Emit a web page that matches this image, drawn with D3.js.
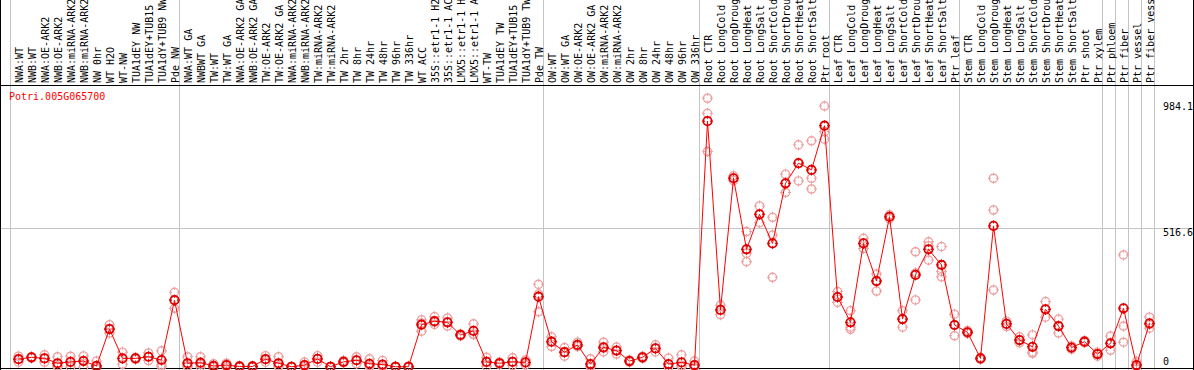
<!DOCTYPE html>
<html lang="en">
<head>
    <meta charset="UTF-8">
    <title>Potri.005G065700</title>
    <style type="text/css">
        * {
            margin: 0;
            padding: 0;
        }
        body { background: white; }
        svg text { font-family: "DejaVu Sans Mono", monospace; font-size: 10px; }
    </style>
</head>
<body>
<div id="chart-area"></div>
<script src="https://cdn.jsdelivr.net/npm/d3@7"></script>
<script type="text/javascript">
    const width = 1194
    const height = 370

    const samples = [
      'NWA:WT', 'NWB:WT', 'NWA:OE-ARK2', 'NWB:OE-ARK2', 'NWA:miRNA-ARK2', 'NWB:miRNA-ARK2', 'NW 0hr', 'WT H2O',
      'WT-NW', 'TUA1dEY NW', 'TUA1dEY+TUB15 NW', 'TUA1dY+TUB9 NW', 'Pde NW',
      'NWA:WT GA', 'NWBWT GA', 'TW:WT', 'TW:WT GA', 'NWA:OE-ARK2 GA', 'NWB:OE-ARK2 GA', 'TW:OE-ARK2', 'TW:OE-ARK2 GA',
      'NWA:miRNA-ARK2 GA', 'NWB:miRNA-ARK2 GA', 'TW:miRNA-ARK2', 'TW:miRNA-ARK2 GA', 'TW 2hr', 'TW 8hr', 'TW 24hr',
      'TW 48hr', 'TW 96hr', 'TW 336hr', 'WT ACC', '35S::etr1-1 H2O', '35S::etr1-1 ACC', 'LMX5::etr1-1 H2O',
      'LMX5::etr1-1 ACC', 'WT-TW', 'TUA1dEY TW', 'TUA1dEY+TUB15 TW', 'TUA1dY+TUB9 TW', 'Pde TW',
      'OW:WT', 'OW:WT GA', 'OW:OE-ARK2', 'OW:OE-ARK2 GA', 'OW:miRNA-ARK2', 'OW:miRNA-ARK2 GA', 'OW 2hr', 'OW 8hr',
      'OW 24hr', 'OW 48hr', 'OW 96hr', 'OW 336hr',
      'Root CTR', 'Root LongCold', 'Root LongDrought', 'Root LongHeat', 'Root LongSalt', 'Root ShortCold',
      'Root ShortDrought', 'Root ShortHeat', 'Root ShortSalt', 'Ptr root',
      'Leaf CTR', 'Leaf LongCold', 'Leaf LongDrought', 'Leaf LongHeat', 'Leaf LongSalt', 'Leaf ShortCold',
      'Leaf ShortDrought', 'Leaf ShortHeat', 'Leaf ShortSalt', 'Ptr leaf',
      'Stem CTR', 'Stem LongCold', 'Stem LongDrought', 'Stem LongHeat', 'Stem LongSalt', 'Stem ShortCold',
      'Stem ShortDrought', 'Stem ShortHeat', 'Stem ShortSalt', 'Ptr shoot', 'Ptr xylem',
      'Ptr phloem', 'Ptr fiber', 'Ptr vessel', 'Ptr fiber vessel'
    ]

    // index of first sample in each group (last entry = end)
    const groupBreaks = [0, 13, 41, 53, 63, 73, 84, 85, 86, 87, 88]

    const meanValues = [
      29, 36, 32, 14, 19, 22, 4, 141, 32, 32, 38, 26, 248,
      14, 16, 4, 7, 2, 2, 29, 14, 1, 7, 30, 1, 19, 25, 12, 9, 1, 1, 157, 170, 166, 119, 134, 19, 14, 19, 17, 261,
      94, 55, 82, 11, 73, 61, 22, 36, 69, 11, 17, 7,
      913, 212, 701, 437, 567, 459, 682, 757, 732, 896,
      260, 166, 459, 319, 558, 178, 342, 437, 379, 156,
      129, 32, 524, 160, 100, 75, 214, 152, 72, 94, 48,
      88, 218, 7, 162
    ]
    const rep1 = [
      40, 38, 45, 38, 40, 41, 22, 157, 55, 36, 52, 60, 277,
      38, 38, 12, 14, 4, 4, 42, 38, 2, 18, 42, 2, 24, 38, 30, 24, 3, 3, 175, 187, 182, 122, 160, 36, 18, 34, 26, 307,
      112, 72, 92, 30, 92, 74, 26, 40, 82, 33, 45, 22,
      998, 230, 710, 503, 598, 556, 716, 825, 840, 969,
      280, 209, 478, 345, 565, 209, 428, 465, 447, 196,
      135, 36, 701, 170, 112, 119, 243, 178, 78, 98, 55,
      115, 416, 20, 185
    ]
    const rep2 = [
      29, 36, 32, 4, 18, 24, 0, 141, 32, 32, 38, 8, 249,
      4, 10, 0, 6, 2, 2, 29, 4, 1, 3, 30, 1, 19, 25, 6, 3, 0, 0, 163, 166, 166, 119, 122, 19, 14, 19, 16, 271,
      94, 55, 78, 3, 70, 61, 22, 36, 69, 0, 6, 0,
      942, 212, 701, 422, 567, 490, 682, 755, 701, 874,
      260, 148, 459, 319, 558, 178, 349, 450, 355, 156,
      129, 32, 583, 160, 100, 55, 214, 152, 72, 94, 48,
      88, 152, 1, 158
    ]
    const rep3 = [
      18, 33, 18, 0, 0, 0, 0, 126, 10, 28, 24, 2, 218,
      0, 0, 0, 0, 0, 0, 18, 0, 0, 0, 18, 0, 15, 12, 0, 0, 0, 0, 133, 158, 152, 115, 120, 2, 10, 5, 8, 205,
      76, 40, 76, 0, 56, 48, 18, 32, 56, 0, 0, 0,
      800, 194, 692, 391, 536, 333, 648, 691, 661, 846,
      240, 140, 440, 282, 550, 148, 249, 397, 335, 116,
      124, 28, 286, 150, 90, 51, 185, 126, 66, 90, 40,
      62, 92, 0, 144
    ]

    const tickValues = [0, 516.6, 984.1]
    const geneName = 'Potri.005G065700'

    const svg = d3.select('#chart-area').append('svg')
    .attr('width', width)
    .attr('height', height)
    .style('display', 'block')
    .style('background-color', 'white')

    const x = d3.scaleBand()
    .domain(d3.range(samples.length))
    .range([10.5, 10.5 + 13 * samples.length])
    .padding(0)

    const y = d3.scaleLinear()
    .domain([0, 984.1])
    .range([367, 102])

    const px = i => x(i) + 8

    // vertical group lines
    svg.selectAll('line.vgrid').data(groupBreaks).enter().append('line')
    .attr('class', 'vgrid')
    .attr('x1', d => d < samples.length ? x(d) : x(samples.length - 1) + x.bandwidth())
    .attr('x2', d => d < samples.length ? x(d) : x(samples.length - 1) + x.bandwidth())
    .attr('y1', 0)
    .attr('y2', height)
    .attr('stroke', '#c4c4c4')
    .attr('stroke-width', 1)

    // horizontal grid at middle tick
    svg.append('line')
    .attr('x1', 0).attr('x2', width)
    .attr('y1', Math.round(y(tickValues[1])) + 0.5)
    .attr('y2', Math.round(y(tickValues[1])) + 0.5)
    .attr('stroke', '#c4c4c4')

    // frame
    svg.append('line').attr('x1', 0).attr('x2', width).attr('y1', 85.5).attr('y2', 85.5).attr('stroke', '#000')
    svg.append('line').attr('x1', 0).attr('x2', width).attr('y1', 368.5).attr('y2', 368.5).attr('stroke', '#000')
    svg.append('line').attr('x1', 0.5).attr('x2', 0.5).attr('y1', 0).attr('y2', height).attr('stroke', '#000')
    svg.append('line').attr('x1', 1193.5).attr('x2', 1193.5).attr('y1', 0).attr('y2', height).attr('stroke', '#000')

    // rotated sample labels
    svg.selectAll('text.sample').data(samples).enter().append('text')
    .attr('class', 'sample')
    .attr('transform', (d, i) => `translate(${px(i) + 4},83) rotate(-90)`)
    .attr('fill', '#000')
    .text(d => d)

    // right axis labels
    svg.selectAll('text.tick').data(tickValues).enter().append('text')
    .attr('class', 'tick')
    .attr('x', 1163)
    .attr('y', d => d === 0 ? y(d) - 2 : y(d) + 8)
    .attr('fill', '#000')
    .text(d => d)

    svg.append('text')
    .attr('x', 9)
    .attr('y', 100)
    .attr('fill', '#ff0000')
    .text(geneName)

    const marker = (g, color, sw) => {
      g.append('circle').attr('r', 4.2).attr('fill', 'none').attr('stroke', color).attr('stroke-width', sw)
      g.append('path')
      .attr('d', 'M0,-5.5V-2.5M0,2.5V5.5M-5.5,0H-2.5M2.5,0H5.5')
      .attr('stroke', color)
      .attr('stroke-width', 1)
    }

    // replicate points
    const reps = [rep1, rep2, rep3]
    reps.forEach(rep => {
      svg.selectAll(null).data(rep).enter().append('g')
      .attr('transform', (d, i) => `translate(${px(i)},${y(d)})`)
      .each(function () { marker(d3.select(this), '#ef9f9f', 1.2) })
    })

    // mean line
    svg.append('path')
    .datum(meanValues)
    .attr('fill', 'none')
    .attr('stroke', '#ff0000')
    .attr('stroke-width', 1)
    .attr('d', d3.line().x((d, i) => px(i)).y(d => y(d)))

    // mean points
    svg.selectAll(null).data(meanValues).enter().append('g')
    .attr('transform', (d, i) => `translate(${px(i)},${y(d)})`)
    .each(function () { marker(d3.select(this), '#e00000', 1.8) })

</script>
</body>
</html>
